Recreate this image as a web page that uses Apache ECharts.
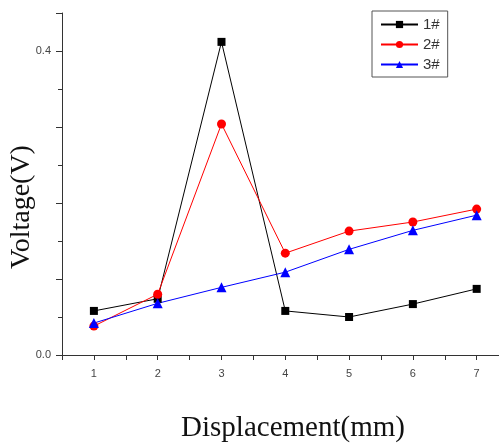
<!DOCTYPE html>
<html>
<head>
<meta charset="utf-8">
<script src="https://cdn.jsdelivr.net/npm/echarts@6/dist/echarts.min.js"></script>
<style>html,body{margin:0;padding:0;background:#fff}#c{width:499px;height:443px}</style>
</head>
<body>
<div id="c"></div>
<script>
const displacement = [1, 2, 3, 4, 5, 6, 7];
const s1 = [0.058, 0.074, 0.412, 0.058, 0.050, 0.067, 0.087];
const s2 = [0.038, 0.080, 0.304, 0.134, 0.163, 0.175, 0.192];
const s3 = [0.042, 0.068, 0.089, 0.109, 0.139, 0.164, 0.184];
const seriesNames = ['1#', '2#', '3#'];
const yTickLabels = {0: '0.0', 0.4: '0.4'};
const xTickLabels = ['1', '2', '3', '4', '5', '6', '7'];

function pairs(v) { return displacement.map((x, i) => [x, v[i]]); }

const chart = echarts.init(document.getElementById('c'), null, {renderer: 'canvas'});
const axisCol = '#333';
chart.setOption({
  backgroundColor: '#fff',
  animation: false,
  grid: {left: 62, top: 13, right: 0, bottom: 88},
  legend: {
    orient: 'vertical', left: 372, top: 11,
    itemWidth: 37, itemHeight: 9, itemGap: 5,
    padding: [6, 8, 5, 8],
    borderColor: '#555', borderWidth: 1,
    textStyle: {fontFamily: 'Liberation Sans', fontSize: 15, color: '#333'},
    data: seriesNames
  },
  xAxis: {
    type: 'value', min: 0.5, max: 7.35, interval: 0.5,
    axisLine: {show: true, onZero: false, lineStyle: {color: axisCol, width: 1}},
    axisTick: {show: true, length: 5, lineStyle: {color: axisCol}},
    splitLine: {show: false},
    axisLabel: {
      margin: 13, fontFamily: 'Liberation Sans', fontSize: 11, color: '#444',
      showMaxLabel: false,
      formatter: v => (Math.abs(v - Math.round(v)) < 1e-6 && xTickLabels.includes(String(Math.round(v)))) ? String(Math.round(v)) : ''
    }
  },
  yAxis: {
    type: 'value', min: 0, max: 0.45, interval: 0.1,
    axisLine: {show: true, lineStyle: {color: axisCol, width: 1}},
    axisTick: {show: true, length: 6, lineStyle: {color: axisCol}},
    minorTick: {show: true, splitNumber: 2, length: 4, lineStyle: {color: axisCol}},
    splitLine: {show: false},
    axisLabel: {
      margin: 11, fontFamily: 'Liberation Sans', fontSize: 11, color: '#444',
      showMaxLabel: false,
      formatter: v => { const k = Math.round(v * 100) / 100; return yTickLabels[k] !== undefined ? yTickLabels[k] : ''; }
    }
  },
  graphic: [
    {type: 'text', style: {text: 'Displacement(mm)', font: '29px "Liberation Serif"', fill: '#111', x: 293, y: 428, align: 'center', verticalAlign: 'middle'}},
    {type: 'text', x: 22, y: 207, rotation: Math.PI / 2, style: {text: 'Voltage(V)', font: '28px "Liberation Serif"', fill: '#111', align: 'center', verticalAlign: 'middle'}}
  ],
  series: [
    {name: seriesNames[0], type: 'line', data: pairs(s1), symbol: 'rect', symbolSize: 8,
     lineStyle: {color: '#000', width: 1}, itemStyle: {color: '#000'}},
    {name: seriesNames[1], type: 'line', data: pairs(s2), symbol: 'circle', symbolSize: 9,
     lineStyle: {color: '#ff0000', width: 1}, itemStyle: {color: '#ff0000'}},
    {name: seriesNames[2], type: 'line', data: pairs(s3), symbol: 'triangle', symbolSize: 10,
     lineStyle: {color: '#0000ff', width: 1}, itemStyle: {color: '#0000ff'}}
  ]
});
</script>
</body>
</html>
